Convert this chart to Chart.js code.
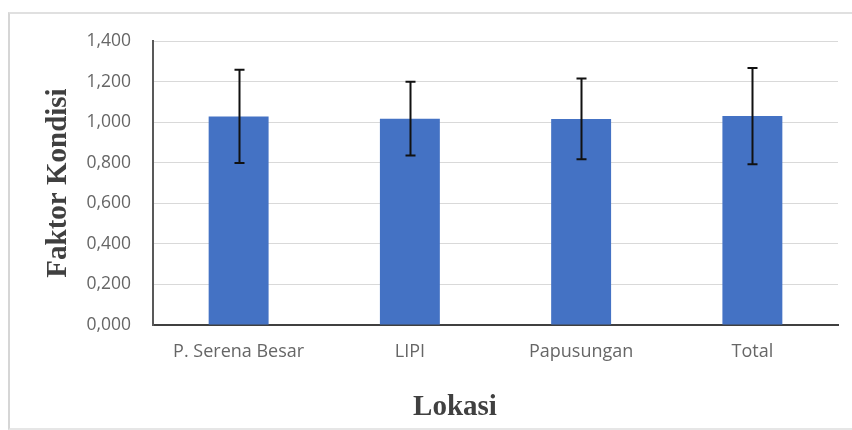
<!DOCTYPE html>
<html>
<head>
<meta charset="utf-8">
<script src="https://cdn.jsdelivr.net/npm/chart.js@4.4.1/dist/chart.umd.min.js"></script>
<style>
  html, body { margin: 0; padding: 0; background: #ffffff; overflow: hidden; }
  #frame { position: absolute; left: 8px; top: 12px; width: 900px; height: 414px;
           border-left: 2px solid #d6d6d6; border-top: 2px solid #e0e0e0; border-bottom: 2px solid #e6e6e6; }
  #wrap { position: absolute; left: 0; top: 0; width: 852px; height: 430px; }
</style>
</head>
<body>
<div id="frame"></div>
<div id="wrap"><canvas id="c" width="852" height="430"></canvas></div>
<script>
const categories = ["P. Serena Besar", "LIPI", "Papusungan", "Total"];
const meanValues = [1.028, 1.017, 1.016, 1.030];
const sdValues = [0.230, 0.182, 0.199, 0.237];
const yTickLabelsMin = 0;
const yTickLabelsMax = 1.4;
const yTickStep = 0.2;
const yTitle = "Faktor Kondisi";
const xTitle = "Lokasi";

const errorBars = {
  id: 'errorBars',
  afterDatasetsDraw(chart) {
    const ctx = chart.ctx;
    const meta = chart.getDatasetMeta(0);
    const y = chart.scales.y;
    ctx.save();
    ctx.strokeStyle = '#111111';
    ctx.lineWidth = 2;
    meta.data.forEach((bar, i) => {
      const x = Math.round(bar.x) + 0.5;
      const top = y.getPixelForValue(meanValues[i] + sdValues[i]);
      const bot = y.getPixelForValue(meanValues[i] - sdValues[i]);
      ctx.beginPath();
      ctx.moveTo(x, top); ctx.lineTo(x, bot);
      ctx.moveTo(x - 5, top); ctx.lineTo(x + 5, top);
      ctx.moveTo(x - 5, bot); ctx.lineTo(x + 5, bot);
      ctx.stroke();
    });
    ctx.restore();
  }
};

const xTitlePlugin = {
  id: 'xTitlePlugin',
  afterDraw(chart) {
    const ctx = chart.ctx;
    ctx.save();
    ctx.font = 'bold 29px "Liberation Serif", "Times New Roman", serif';
    ctx.fillStyle = '#404040';
    ctx.textAlign = 'center';
    ctx.textBaseline = 'alphabetic';
    ctx.fillText(xTitle, 455, 415);
    ctx.restore();
  }
};

new Chart(document.getElementById('c'), {
  type: 'bar',
  data: {
    labels: categories,
    datasets: [{
      data: meanValues,
      backgroundColor: '#4472C4',
      borderWidth: 0,
      categoryPercentage: 1.0,
      barPercentage: 0.35
    }]
  },
  options: {
    responsive: false,
    animation: false,
    layout: { padding: { top: 41, right: 14, bottom: 0, left: 0 } },
    plugins: { legend: { display: false }, tooltip: { enabled: false }, title: { display: false } },
    scales: {
      x: {
        grid: { display: false, drawTicks: false },
        border: { display: true, color: '#404040', width: 2 },
        ticks: { color: '#666666', padding: 16, font: { family: '"Open Sans", sans-serif', size: 18 } },
        afterFit(scale) { scale.height = 105; }
      },
      y: {
        min: yTickLabelsMin,
        max: yTickLabelsMax,
        ticks: {
          stepSize: yTickStep,
          color: '#666666',
          padding: 22,
          font: { family: '"Open Sans", sans-serif', size: 17.5 },
          callback: (v) => Number(v).toFixed(3).replace('.', ',')
        },
        grid: { color: '#d9d9d9', lineWidth: 1, drawTicks: false },
        border: { display: true, color: '#595959', width: 2 },
        title: {
          display: true,
          text: yTitle,
          color: '#404040',
          font: { family: '"Liberation Serif", "Times New Roman", serif', size: 29, weight: 'bold' },
          padding: { top: 41, bottom: 0 }
        },
        afterFit(scale) { scale.width = 153; }
      }
    }
  },
  plugins: [errorBars, xTitlePlugin]
});
</script>
</body>
</html>
